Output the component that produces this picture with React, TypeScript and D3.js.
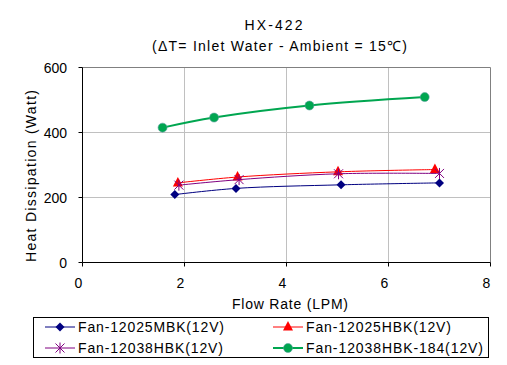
import React, { useEffect, useRef } from 'react'
import * as d3 from 'd3'

const xTicks = [0, 2, 4, 6, 8]
const yTicks = [0, 200, 400, 600]

const mbkFlow = [1.81, 3.01, 5.07, 7.0]
const mbkHeat = [209, 228, 239, 245]
const hbkFlow = [1.87, 3.04, 5.01, 6.91]
const hbkHeat = [245, 263, 279, 286]
const hbk38Flow = [1.89, 3.07, 5.02, 7.0]
const hbk38Heat = [238, 255, 273, 274]
const hbk184Flow = [1.57, 2.58, 4.45, 6.71]
const hbk184Heat = [415, 446, 483, 509]

const seriesNames = ['Fan-12025MBK(12V)', 'Fan-12025HBK(12V)', 'Fan-12038HBK(12V)', 'Fan-12038HBK-184(12V)']
const legendWidths = [146, 145, 145, 177]

const FONT = '"Liberation Sans", Arial, sans-serif'

export default function App() {
  const ref = useRef<SVGSVGElement>(null)

  useEffect(() => {
    const svg = d3.select(ref.current)
    svg.selectAll('*').remove()

    const x = d3.scaleLinear().domain([0, 8]).range([82.5, 490.5])
    const y = d3.scaleLinear().domain([0, 600]).range([262.5, 67.5])

    const series = [
      { name: seriesNames[0], xs: mbkFlow, ys: mbkHeat, color: '#000080', marker: 'diamond', width: 1 },
      { name: seriesNames[1], xs: hbkFlow, ys: hbkHeat, color: '#ff0000', marker: 'triangle', width: 1 },
      { name: seriesNames[2], xs: hbk38Flow, ys: hbk38Heat, color: '#800080', marker: 'star', width: 1 },
      { name: seriesNames[3], xs: hbk184Flow, ys: hbk184Heat, color: '#00a650', marker: 'circle', width: 2 },
    ]

    // grid
    const g = svg.append('g')
    g.selectAll('line.gx').data(xTicks.slice(1, -1)).enter().append('line')
      .attr('x1', d => x(d)).attr('x2', d => x(d)).attr('y1', y(0)).attr('y2', y(600))
      .attr('stroke', '#c0c0c0')
    g.selectAll('line.gy').data(yTicks.slice(1, -1)).enter().append('line')
      .attr('x1', x(0)).attr('x2', x(8)).attr('y1', d => y(d)).attr('y2', d => y(d))
      .attr('stroke', '#c0c0c0')
    // border top/right
    g.append('path')
      .attr('d', `M${x(0)},${y(600)}H${x(8)}V${y(0)}`)
      .attr('fill', 'none').attr('stroke', '#808080')

    // axes
    g.append('line').attr('x1', x(0)).attr('x2', x(8)).attr('y1', y(0)).attr('y2', y(0)).attr('stroke', '#000')
    g.append('line').attr('x1', x(0)).attr('x2', x(0)).attr('y1', y(0)).attr('y2', y(600)).attr('stroke', '#000')
    g.selectAll('line.tx').data(xTicks).enter().append('line')
      .attr('x1', d => x(d)).attr('x2', d => x(d)).attr('y1', y(0)).attr('y2', y(0) + 4)
      .attr('stroke', '#000')
    g.selectAll('line.ty').data(yTicks).enter().append('line')
      .attr('x1', x(0) - 4).attr('x2', x(0)).attr('y1', d => y(d)).attr('y2', d => y(d))
      .attr('stroke', '#000')

    g.selectAll('text.tx').data(xTicks).enter().append('text')
      .attr('x', d => x(d) - 4).attr('y', 288)
      .attr('text-anchor', 'middle').attr('font-size', 14).attr('font-family', FONT)
      .text(d => d)
    g.selectAll('text.ty').data(yTicks).enter().append('text')
      .attr('x', 67).attr('y', d => y(d) + 5)
      .attr('text-anchor', 'end').attr('font-size', 14).attr('font-family', FONT)
      .text(d => d)

    // titles
    const txt = (xp: number, yp: number, s: string, len: number, rot = false) => {
      const t = svg.append('text').attr('text-anchor', 'middle')
        .attr('font-size', 14).attr('font-family', FONT)
        .attr('textLength', len).attr('lengthAdjust', 'spacing').text(s)
      if (rot) t.attr('transform', `translate(${xp},${yp}) rotate(-90)`)
      else t.attr('x', xp).attr('y', yp)
    }
    txt(273.5, 30, 'HX-422', 58)
    txt(279.5, 51, '(ΔT= Inlet Water - Ambient = 15℃)', 255)
    txt(290, 309, 'Flow Rate (LPM)', 116)
    txt(36, 176, 'Heat Dissipation  (Watt)', 172, true)

    const line = d3.line<[number, number]>().x(d => x(d[0])).y(d => y(d[1])).curve(d3.curveCatmullRom)

    const drawMarker = (sel: any, kind: string, color: string, cx: number, cy: number) => {
      if (kind === 'diamond') {
        sel.append('path').attr('d', `M${cx},${cy - 4.5}L${cx + 4.5},${cy}L${cx},${cy + 4.5}L${cx - 4.5},${cy}Z`).attr('fill', color)
      } else if (kind === 'triangle') {
        sel.append('path').attr('d', `M${cx},${cy - 6}L${cx + 5},${cy + 3.5}L${cx - 5},${cy + 3.5}Z`).attr('fill', color)
      } else if (kind === 'star') {
        const r = 4.5
        sel.append('path')
          .attr('d', `M${cx - r},${cy - r}L${cx + r},${cy + r}M${cx - r},${cy + r}L${cx + r},${cy - r}M${cx},${cy - r - 1}V${cy + r + 1}`)
          .attr('stroke', color).attr('stroke-width', 1).attr('fill', 'none')
      } else {
        sel.append('circle').attr('cx', cx).attr('cy', cy).attr('r', 4.5).attr('fill', color)
          .attr('stroke', '#5aa0a0').attr('stroke-width', 0.6)
      }
    }

    const plot = svg.append('g')
    series.forEach(s => {
      const pts = s.xs.map((v, i) => [v, s.ys[i]] as [number, number])
      plot.append('path').attr('d', line(pts)).attr('fill', 'none')
        .attr('stroke', s.color).attr('stroke-width', s.width)
      pts.forEach(p => drawMarker(plot, s.marker, s.color, x(p[0]), y(p[1])))
    })

    // legend
    const lg = svg.append('g')
    lg.append('rect').attr('x', 33.5).attr('y', 317.5).attr('width', 455).attr('height', 40)
      .attr('fill', '#fff').attr('stroke', '#000')
    series.forEach((s, i) => {
      const lx = i % 2 === 0 ? 45 : 273
      const ly = i < 2 ? 327 : 348
      lg.append('line').attr('x1', lx).attr('x2', lx + 30).attr('y1', ly).attr('y2', ly)
        .attr('stroke', s.color).attr('stroke-width', s.width)
      drawMarker(lg, s.marker, s.color, lx + 15, ly)
      lg.append('text').attr('x', lx + 33).attr('y', ly + 5).attr('font-size', 14)
        .attr('font-family', FONT)
        .attr('textLength', legendWidths[i]).attr('lengthAdjust', 'spacing')
        .text(s.name)
    })
  }, [])

  return (
    <svg ref={ref} width={507} height={365} style={{ position: 'absolute', left: 0, top: 0, background: '#fff' }} />
  )
}
